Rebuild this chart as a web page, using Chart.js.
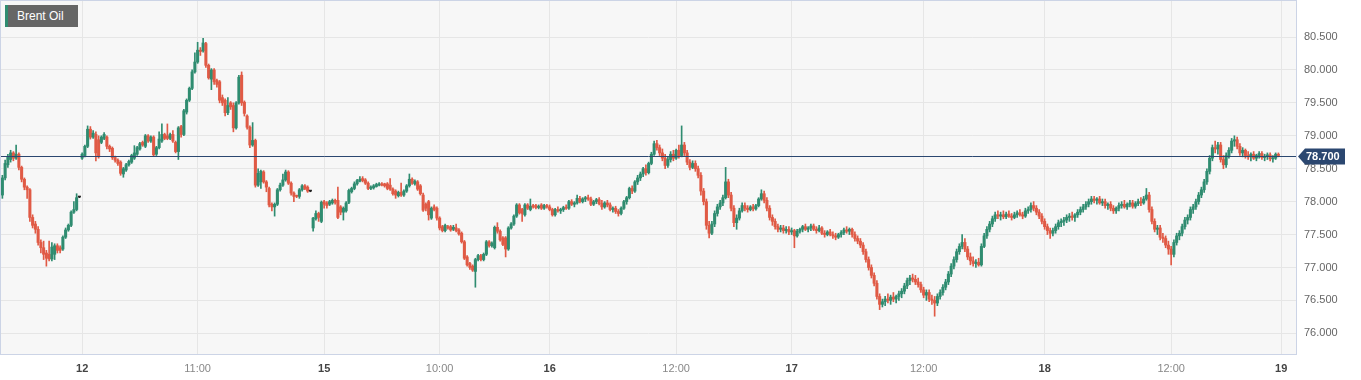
<!DOCTYPE html>
<html><head><meta charset="utf-8">
<script src="https://cdn.jsdelivr.net/npm/chart.js@4.4.1/dist/chart.umd.min.js"></script>
<style>
html,body{margin:0;padding:0;background:#fff;}
#wrap{position:relative;width:1361px;height:380px;}
#legend{position:absolute;left:5px;top:5px;width:73px;height:22px;box-sizing:border-box;background:#666;border-left:3px solid #2f8c70;color:#fff;font:12px "Liberation Sans",Arial,sans-serif;line-height:22px;padding-left:9px;white-space:nowrap;}
</style></head>
<body>
<div id="wrap">
<canvas id="c" width="1361" height="380"></canvas>
<div id="legend">Brent Oil</div>
</div>
<script>
// ---- data (15-minute candles) ----
const priceOpen = [
78.10,78.36,78.56,78.64,78.74,78.66,78.72,78.52,78.34,78.22,
78.18,77.76,77.66,77.58,77.38,77.30,77.22,77.20,77.13,77.20,
77.33,77.30,77.28,77.46,77.57,77.64,77.84,77.88,78.07,
78.66,78.70,78.84,79.10,78.98,79.02,78.94,78.90,78.96,78.98,
78.84,78.81,78.67,78.63,78.60,78.42,78.48,78.56,78.60,78.66,
78.72,78.80,78.90,78.84,79.00,78.92,78.98,78.72,78.82,78.92,
79.02,79.00,78.96,79.02,78.90,78.76,79.14,79.02,79.36,79.54,
79.72,79.97,80.12,80.30,80.29,80.40,80.07,79.86,80.00,79.84,
79.82,79.58,79.54,79.35,79.50,79.46,79.12,79.50,79.92,79.51,
79.30,79.13,78.86,78.93,78.25,78.30,78.45,78.30,78.20,77.96,
77.92,77.96,78.18,78.25,78.33,78.45,78.28,78.13,78.09,78.08,
78.18,78.24,78.22,78.16,77.60,77.74,77.82,77.70,78.00,77.98,
77.96,77.98,78.02,78.02,77.92,77.84,77.86,77.99,78.15,78.20,
78.27,78.31,78.35,78.33,78.28,78.20,78.21,78.23,78.25,78.27,
78.27,78.27,78.25,78.19,78.16,78.09,78.14,78.10,78.16,78.24,
78.34,78.27,78.30,78.24,78.10,77.96,78.00,77.75,77.92,77.90,
77.75,77.62,77.56,77.62,77.62,77.58,77.60,77.57,77.52,77.39,
77.16,77.06,77.02,76.94,77.12,77.18,77.12,77.20,77.39,77.33,
77.30,77.61,77.55,77.45,77.45,77.28,77.60,77.66,77.78,77.95,
77.88,77.80,77.95,77.88,77.94,77.94,77.91,77.95,
77.90,77.94,77.92,77.88,77.80,77.88,77.86,77.88,77.91,77.90,
78.00,77.96,77.98,78.05,78.00,78.04,78.06,78.04,77.96,78.00,
78.03,77.97,77.92,77.98,77.95,77.88,77.90,77.85,77.82,77.90,
78.00,78.06,78.20,78.16,78.30,78.36,78.42,78.50,78.44,78.58,
78.72,78.88,78.82,78.74,78.66,78.55,78.64,78.72,78.66,78.78,
78.70,78.86,78.74,78.60,78.52,78.58,78.50,78.40,78.16,78.00,
77.64,77.52,77.66,77.82,77.92,77.98,78.06,78.30,78.10,77.90,
77.68,77.75,77.86,77.94,77.90,77.88,77.92,77.89,77.94,78.04,
78.12,78.02,77.90,77.76,77.70,77.62,77.58,77.60,77.56,77.58,
77.54,77.56,77.48,77.55,77.58,77.62,77.58,77.60,77.63,77.58,
77.56,77.60,77.52,77.50,77.54,77.50,77.48,77.46,77.50,77.53,
77.57,77.55,77.58,77.50,77.44,77.40,77.34,77.24,77.12,77.00,
76.88,76.76,76.56,76.44,76.48,76.52,76.50,76.55,76.52,76.56,
76.60,76.64,76.72,76.80,76.84,76.82,76.78,76.74,76.66,76.58,
76.62,76.52,76.50,76.46,76.56,76.62,76.70,76.78,76.90,77.02,
77.12,77.24,77.32,77.38,77.28,77.16,77.10,77.06,77.08,77.04,
77.32,77.48,77.58,77.66,77.74,77.80,77.78,77.80,77.77,77.81,
77.78,77.76,77.80,77.83,77.80,77.78,77.86,77.88,77.94,77.90,
77.84,77.78,77.70,77.62,77.56,77.52,77.56,77.62,77.68,77.70,
77.72,77.76,77.78,77.76,77.80,77.84,77.88,77.92,77.96,78.00,
78.04,78.02,78.04,77.98,78.00,77.94,77.96,77.90,77.86,77.90,
77.94,77.96,77.92,77.96,77.98,77.93,77.97,78.00,77.98,78.04,
78.10,77.88,77.70,77.58,77.60,77.46,77.44,77.34,77.28,77.20,
77.38,77.48,77.52,77.62,77.72,77.76,77.88,77.92,78.00,78.10,
78.18,78.30,78.46,78.66,78.82,78.80,78.86,78.64,78.56,78.70,
78.78,78.92,78.94,78.84,78.74,78.78,78.70,78.68,78.72,78.66,
78.70,78.73,78.67,78.69,78.71,78.65,78.66,78.72
];
const priceHigh = [
78.40,78.63,78.72,78.78,78.76,78.86,78.74,78.54,78.36,78.24,
78.20,77.80,77.70,77.62,77.42,77.40,77.26,77.40,77.38,77.36,
77.36,77.33,77.48,77.60,77.66,77.86,78.00,78.12,78.08,
78.74,78.86,79.15,79.14,79.08,79.06,79.00,79.00,79.05,79.00,
78.86,78.83,78.69,78.65,78.62,78.52,78.58,78.63,78.72,78.85,
78.84,78.90,78.92,79.02,79.02,79.00,79.00,78.84,79.06,79.18,
79.04,79.18,79.04,79.08,78.92,79.14,79.16,79.40,79.56,79.74,
80.00,80.26,80.42,80.34,80.48,80.42,80.09,80.02,80.02,79.86,
79.84,79.62,79.56,79.58,79.52,79.50,79.52,79.92,79.97,79.53,
79.32,79.15,79.20,78.95,78.50,78.48,78.47,78.32,78.22,77.98,
77.98,78.20,78.28,78.42,78.48,78.47,78.30,78.15,78.10,78.20,
78.26,78.26,78.24,78.17,77.76,77.86,77.84,78.01,78.02,78.00,
78.02,78.04,78.04,78.22,77.94,77.92,78.00,78.19,78.22,78.30,
78.34,78.38,78.38,78.35,78.30,78.24,78.26,78.28,78.29,78.29,
78.28,78.29,78.35,78.21,78.18,78.16,78.28,78.18,78.26,78.42,
78.36,78.33,78.32,78.26,78.13,77.98,78.02,77.92,77.95,77.92,
77.77,77.64,77.66,77.64,77.64,77.64,77.66,77.59,77.54,77.41,
77.18,77.08,77.04,77.14,77.20,77.20,77.22,77.41,77.41,77.39,
77.63,77.68,77.57,77.47,77.47,77.62,77.68,77.80,77.97,77.97,
77.90,77.97,77.97,78.04,77.96,77.96,77.95,77.97,
77.96,77.96,77.95,77.90,77.90,77.92,77.90,77.93,77.95,78.02,
78.03,78.00,78.10,78.08,78.06,78.08,78.10,78.07,78.02,78.05,
78.06,78.02,78.00,78.02,77.98,77.92,77.93,77.88,77.92,78.02,
78.08,78.22,78.24,78.32,78.40,78.45,78.52,78.56,78.60,78.75,
78.92,78.93,78.86,78.80,78.72,78.68,78.76,78.78,78.80,78.86,
79.15,78.90,78.78,78.64,78.62,78.62,78.54,78.44,78.20,78.04,
77.70,77.70,77.86,77.96,78.02,78.10,78.52,78.34,78.14,77.94,
77.80,77.90,77.98,77.98,77.94,77.94,77.96,77.96,78.06,78.18,
78.16,78.06,77.94,77.80,77.74,77.66,77.64,77.64,77.62,77.62,
77.60,77.58,77.58,77.60,77.64,77.66,77.62,77.66,77.66,77.62,
77.64,77.62,77.56,77.56,77.58,77.54,77.52,77.52,77.56,77.60,
77.62,77.60,77.60,77.54,77.48,77.44,77.38,77.28,77.16,77.04,
76.92,76.80,76.60,76.52,76.56,76.60,76.58,76.62,76.58,76.64,
76.68,76.76,76.84,76.88,76.90,76.88,76.84,76.78,76.70,76.66,
76.66,76.58,76.56,76.60,76.66,76.74,76.82,76.94,77.06,77.16,
77.28,77.36,77.50,77.44,77.32,77.22,77.16,77.12,77.14,77.36,
77.52,77.62,77.70,77.78,77.84,77.86,77.84,77.86,77.84,77.86,
77.82,77.84,77.86,77.88,77.84,77.90,77.92,77.98,78.00,77.94,
77.88,77.82,77.74,77.66,77.60,77.60,77.66,77.72,77.74,77.76,
77.80,77.82,77.84,77.82,77.88,77.92,77.96,78.00,78.04,78.08,
78.08,78.06,78.08,78.04,78.04,77.98,78.00,77.94,77.92,77.98,
78.00,78.02,77.98,78.02,78.02,78.00,78.04,78.06,78.08,78.20,
78.14,77.92,77.74,77.64,77.64,77.52,77.48,77.40,77.32,77.42,
77.52,77.56,77.66,77.76,77.80,77.92,77.96,78.04,78.14,78.22,
78.34,78.50,78.70,78.86,78.92,78.90,78.90,78.70,78.74,78.82,
78.96,79.00,78.98,78.88,78.82,78.80,78.76,78.74,78.76,78.72,
78.76,78.76,78.72,78.74,78.74,78.70,78.74,78.74
];
const priceLow = [
78.05,78.33,78.52,78.60,78.62,78.64,78.48,78.30,78.18,78.05,
77.70,77.60,77.52,77.34,77.22,77.12,77.02,77.10,77.10,77.12,
77.22,77.22,77.26,77.44,77.55,77.62,77.82,77.86,78.06,
78.64,78.68,78.82,78.95,78.96,78.62,78.66,78.88,78.94,78.80,
78.76,78.64,78.60,78.55,78.40,78.37,78.46,78.54,78.58,78.64,
78.70,78.78,78.84,78.82,78.90,78.90,78.69,78.70,78.80,78.90,
78.94,78.94,78.94,78.90,78.74,78.64,78.98,79.00,79.33,79.52,
79.70,79.95,80.10,80.22,80.27,80.04,79.86,79.70,79.78,79.74,
79.50,79.46,79.30,79.32,79.40,79.06,79.10,79.48,79.46,79.30,
79.10,78.82,78.84,78.22,78.23,78.20,78.28,78.15,77.92,77.86,
77.78,77.94,78.16,78.23,78.31,78.26,78.10,78.00,78.06,78.05,
78.16,78.18,78.14,78.15,77.55,77.72,77.70,77.68,77.90,77.90,
77.94,77.96,77.96,77.74,77.80,77.72,77.84,77.97,78.13,78.18,
78.25,78.30,78.30,78.26,78.18,78.18,78.19,78.22,78.24,78.24,
78.22,78.18,78.17,78.10,78.05,78.07,78.08,78.08,78.14,78.22,
78.26,78.25,78.17,78.10,77.85,77.86,77.72,77.73,77.86,77.72,
77.57,77.54,77.54,77.58,77.55,77.56,77.54,77.49,77.37,77.12,
77.02,76.97,76.94,76.70,77.10,77.10,77.10,77.18,77.31,77.31,
77.28,77.52,77.40,77.33,77.16,77.26,77.58,77.64,77.76,77.81,
77.70,77.78,77.88,77.86,77.90,77.89,77.89,77.88,
77.88,77.90,77.86,77.78,77.78,77.84,77.82,77.85,77.88,77.88,
77.94,77.92,77.96,77.98,77.98,78.00,78.02,77.94,77.94,77.97,
77.95,77.88,77.90,77.92,77.86,77.84,77.82,77.78,77.80,77.88,
77.96,78.04,78.12,78.14,78.26,78.32,78.38,78.40,78.42,78.56,
78.70,78.78,78.70,78.62,78.50,78.52,78.60,78.62,78.64,78.66,
78.68,78.70,78.56,78.48,78.50,78.46,78.36,78.10,77.95,77.58,
77.45,77.50,77.62,77.78,77.88,77.94,78.04,78.06,77.86,77.62,
77.58,77.72,77.84,77.86,77.84,77.86,77.86,77.87,77.92,78.02,
77.98,77.86,77.72,77.64,77.58,77.54,77.54,77.52,77.52,77.50,
77.50,77.30,77.46,77.52,77.54,77.56,77.54,77.56,77.56,77.52,
77.54,77.50,77.46,77.48,77.48,77.44,77.42,77.44,77.46,77.50,
77.52,77.50,77.46,77.40,77.36,77.30,77.20,77.08,76.96,76.84,
76.72,76.52,76.36,76.40,76.42,76.46,76.44,76.48,76.46,76.50,
76.54,76.60,76.68,76.74,76.78,76.74,76.70,76.62,76.54,76.50,
76.48,76.44,76.26,76.42,76.52,76.58,76.66,76.74,76.86,76.98,
77.08,77.20,77.28,77.24,77.12,77.04,77.02,77.00,77.02,77.02,
77.30,77.44,77.54,77.62,77.70,77.74,77.72,77.74,77.74,77.76,
77.72,77.74,77.76,77.78,77.74,77.76,77.82,77.84,77.86,77.80,
77.74,77.66,77.58,77.50,77.44,77.48,77.52,77.58,77.62,77.64,
77.68,77.70,77.72,77.70,77.76,77.80,77.84,77.88,77.92,77.96,
77.98,77.96,77.96,77.94,77.90,77.88,77.86,77.82,77.82,77.86,
77.90,77.90,77.88,77.92,77.90,77.90,77.94,77.94,77.96,78.02,
77.84,77.66,77.54,77.50,77.42,77.38,77.30,77.20,77.04,77.16,
77.34,77.42,77.48,77.58,77.66,77.72,77.82,77.88,77.96,78.06,
78.14,78.26,78.42,78.62,78.74,78.72,78.60,78.50,78.52,78.66,
78.74,78.84,78.80,78.70,78.68,78.66,78.64,78.62,78.64,78.62,
78.66,78.64,78.62,78.64,78.62,78.60,78.64,78.68
];
const priceClose = [
78.36,78.58,78.68,78.74,78.66,78.72,78.52,78.34,78.22,78.18,
77.76,77.64,77.58,77.38,77.30,77.20,77.14,77.13,77.31,77.33,
77.26,77.26,77.46,77.57,77.64,77.84,77.88,78.06,78.07,
78.72,78.84,79.10,78.98,79.04,78.74,78.68,78.98,79.02,78.84,
78.80,78.67,78.63,78.58,78.43,78.50,78.56,78.61,78.70,78.74,
78.82,78.88,78.86,79.00,78.92,78.98,78.71,78.82,78.95,79.02,
78.96,78.96,79.02,78.92,78.76,79.12,79.02,79.38,79.54,79.72,
79.97,80.12,80.30,80.28,80.41,80.07,79.88,80.00,79.82,79.78,
79.54,79.50,79.35,79.46,79.44,79.12,79.50,79.89,79.50,79.34,
79.13,78.86,78.93,78.25,78.43,78.46,78.30,78.22,77.95,77.92,
77.96,78.18,78.25,78.33,78.45,78.28,78.13,78.08,78.08,78.18,
78.24,78.20,78.16,78.16,77.75,77.82,77.76,77.99,77.96,77.94,
78.00,78.02,77.99,77.76,77.84,77.90,77.98,78.17,78.20,78.27,
78.32,78.34,78.32,78.28,78.20,78.22,78.24,78.26,78.27,78.25,
78.24,78.20,78.19,78.12,78.10,78.14,78.10,78.16,78.24,78.34,
78.28,78.31,78.19,78.12,77.87,77.90,77.80,77.90,77.88,77.75,
77.60,77.56,77.64,77.60,77.57,77.61,77.56,77.51,77.39,77.14,
77.04,77.00,76.96,77.12,77.18,77.12,77.20,77.39,77.33,77.37,
77.61,77.55,77.42,77.35,77.28,77.60,77.66,77.78,77.95,77.83,
77.82,77.95,77.90,77.93,77.92,77.91,77.93,77.90,
77.94,77.92,77.88,77.80,77.88,77.86,77.88,77.91,77.90,78.00,
77.96,77.98,78.05,78.00,78.04,78.06,78.04,77.96,78.00,78.03,
77.97,77.92,77.98,77.95,77.88,77.90,77.85,77.82,77.90,78.00,
78.06,78.20,78.16,78.30,78.36,78.42,78.50,78.44,78.58,78.72,
78.88,78.82,78.74,78.66,78.55,78.64,78.72,78.66,78.78,78.70,
78.86,78.74,78.60,78.52,78.58,78.50,78.40,78.16,78.00,77.64,
77.52,77.66,77.82,77.92,77.98,78.06,78.30,78.10,77.90,77.68,
77.75,77.86,77.94,77.90,77.88,77.92,77.89,77.94,78.04,78.12,
78.02,77.90,77.76,77.70,77.62,77.58,77.60,77.56,77.58,77.54,
77.56,77.48,77.55,77.58,77.62,77.58,77.60,77.63,77.58,77.56,
77.60,77.52,77.50,77.54,77.50,77.48,77.46,77.50,77.53,77.57,
77.55,77.58,77.50,77.44,77.40,77.34,77.24,77.12,77.00,76.88,
76.76,76.56,76.44,76.48,76.52,76.50,76.55,76.52,76.56,76.60,
76.64,76.72,76.80,76.84,76.82,76.78,76.74,76.66,76.58,76.62,
76.52,76.50,76.46,76.56,76.62,76.70,76.78,76.90,77.02,77.12,
77.24,77.32,77.38,77.28,77.16,77.10,77.06,77.08,77.04,77.32,
77.48,77.58,77.66,77.74,77.80,77.78,77.80,77.77,77.81,77.78,
77.76,77.80,77.83,77.80,77.78,77.86,77.88,77.94,77.90,77.84,
77.78,77.70,77.62,77.56,77.52,77.56,77.62,77.68,77.70,77.72,
77.76,77.78,77.76,77.80,77.84,77.88,77.92,77.96,78.00,78.04,
78.02,78.04,77.98,78.00,77.94,77.96,77.90,77.86,77.90,77.94,
77.96,77.92,77.96,77.98,77.93,77.97,78.00,77.98,78.04,78.10,
77.88,77.70,77.58,77.60,77.46,77.44,77.34,77.28,77.20,77.38,
77.48,77.52,77.62,77.72,77.76,77.88,77.92,78.00,78.10,78.18,
78.30,78.46,78.66,78.82,78.80,78.86,78.64,78.56,78.70,78.78,
78.92,78.94,78.84,78.74,78.78,78.70,78.68,78.72,78.66,78.70,
78.73,78.67,78.69,78.71,78.65,78.66,78.72,78.70
];
// x-axis ticks: candle index and label
const xTickIdx  = [29, 71, 117, 159, 199, 245, 287, 335, 379, 425, 465];
const xTickText = ['12', '11:00', '15', '10:00', '16', '12:00', '17', '12:00', '18', '12:00', '19'];
// y-axis tick values
const yTickValues = [76.0, 76.5, 77.0, 77.5, 78.0, 78.5, 79.0, 79.5, 80.0, 80.5];
const lastPrice = priceClose[priceClose.length - 1];

// ---- styles ----
const UP = '#2f8c70', DOWN = '#e05a45', DOJI = '#222222';
const FONT = '"Liberation Sans", Arial, Helvetica, sans-serif';
const NAVY = '#2b4770';

const idx = priceOpen.map((_, i) => i);
const colorOf = i => priceClose[i] > priceOpen[i] ? UP : (priceClose[i] < priceOpen[i] ? DOWN : DOJI);
const colors = idx.map(colorOf);

const bgPlugin = {
  id: 'bg',
  beforeDraw(chart) {
    const {ctx, chartArea: a} = chart;
    ctx.save();
    ctx.fillStyle = '#f7f7f7';
    ctx.fillRect(a.left, a.top, a.right - a.left, a.bottom - a.top);
    ctx.restore();
  },
  afterDraw(chart) {
    const {ctx, chartArea: a} = chart;
    ctx.save();
    ctx.strokeStyle = '#ccd4e6';
    ctx.lineWidth = 1;
    ctx.strokeRect(a.left - 0.5, a.top - 0.5, a.right - a.left + 1, a.bottom - a.top + 1);
    ctx.restore();
  }
};

const pricePlugin = {
  id: 'priceLine',
  afterDraw(chart) {
    const {ctx, chartArea: a, scales} = chart;
    const y = Math.round(scales.y.getPixelForValue(lastPrice)) + 0.5;
    ctx.save();
    ctx.strokeStyle = NAVY;
    ctx.lineWidth = 1;
    ctx.beginPath();
    ctx.moveTo(a.left, y);
    ctx.lineTo(a.right, y);
    ctx.stroke();
    const x0 = a.right + 2, h = 8;
    ctx.fillStyle = NAVY;
    ctx.beginPath();
    ctx.moveTo(x0, y);
    ctx.lineTo(x0 + 7, y - h);
    ctx.lineTo(x0 + 47, y - h);
    ctx.lineTo(x0 + 47, y + h);
    ctx.lineTo(x0 + 7, y + h);
    ctx.closePath();
    ctx.fill();
    ctx.fillStyle = '#ffffff';
    ctx.font = 'bold 11px ' + FONT;
    ctx.textBaseline = 'middle';
    ctx.textAlign = 'left';
    ctx.fillText(lastPrice.toFixed(3), x0 + 8, y + 0.5);
    ctx.restore();
  }
};

new Chart(document.getElementById('c'), {
  type: 'bar',
  data: {
    datasets: [
      {
        label: 'wick',
        data: idx.map(i => ({x: i, y: [priceLow[i], priceHigh[i]]})),
        backgroundColor: colors,
        barThickness: 1,
        grouped: false,
        order: 2
      },
      {
        label: 'body',
        data: idx.map(i => ({x: i, y: [priceOpen[i], priceClose[i]]})),
        backgroundColor: colors,
        barThickness: 2.4,
        minBarLength: 1,
        grouped: false,
        order: 1
      }
    ]
  },
  options: {
    responsive: false,
    animation: false,
    layout: {autoPadding: false, padding: {top: 1, left: 1, right: 0, bottom: 0}},
    plugins: {legend: {display: false}, tooltip: {enabled: false}},
    scales: {
      x: {
        type: 'linear',
        min: -0.5,
        max: 470.4,
        offset: false,
        afterBuildTicks: s => { s.ticks = xTickIdx.map(v => ({value: v})); },
        afterFit: s => { s.height = 26; s.paddingLeft = 0; s.paddingRight = 0; s.paddingTop = 0; s.paddingBottom = 0; },
        grid: {color: '#e6e6e6', drawTicks: false, offset: false},
        border: {color: '#ccd4e6'},
        ticks: {
          autoSkip: false,
          maxRotation: 0,
          padding: 8,
          callback: (v, i) => xTickText[i],
          font: c => ({family: FONT, size: 11, weight: (xTickText[c.index] || '').includes(':') ? 'normal' : 'bold'}),
          color: c => (xTickText[c.index] || '').includes(':') ? '#888888' : '#444444'
        }
      },
      y: {
        position: 'right',
        min: 75.686,
        max: 81.047,
        afterBuildTicks: s => { s.ticks = yTickValues.map(v => ({value: v})); },
        afterFit: s => { s.width = 65; s.paddingLeft = 0; s.paddingRight = 0; s.paddingTop = 0; s.paddingBottom = 0; },
        grid: {color: '#e6e6e6', drawTicks: false},
        border: {color: '#ccd4e6'},
        ticks: {
          padding: 8,
          callback: v => Number(v).toFixed(3),
          font: {family: FONT, size: 11},
          color: '#666666'
        }
      }
    }
  },
  plugins: [bgPlugin, pricePlugin]
});
</script>
</body></html>
